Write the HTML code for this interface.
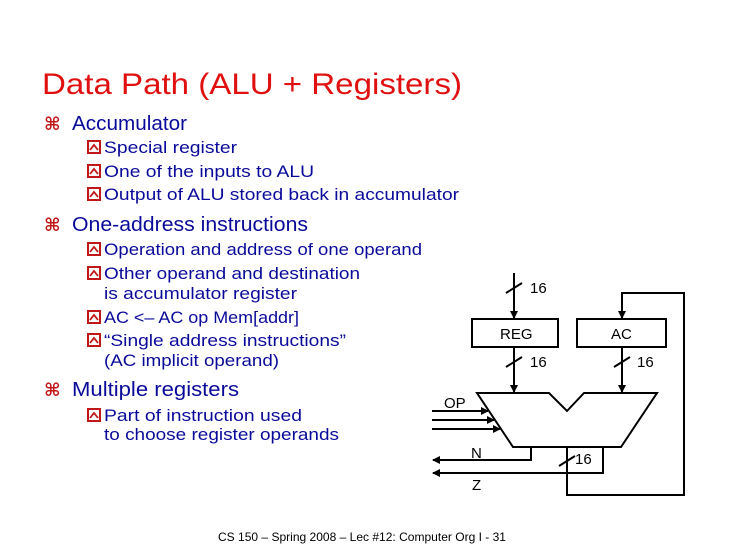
<!DOCTYPE html>
<html><head><meta charset="utf-8"><style>
html,body{margin:0;padding:0;background:#fff;}
svg{display:block}
.t{font-family:"Liberation Sans",sans-serif;fill:#0a0a9a}
.d{font-family:"Liberation Sans",sans-serif;fill:#000;font-size:15px}
.k{font-family:"DejaVu Sans",sans-serif;font-size:18px;font-weight:bold;fill:#c01818}
</style></head><body>
<svg width="730" height="547" viewBox="0 0 730 547" xmlns="http://www.w3.org/2000/svg">
<defs>
<g id="b"><rect x="0" y="-12" width="12" height="12" fill="#fff" stroke="#c01818" stroke-width="2"/><path d="M2,-3 L6,-8 L10,-3" fill="none" stroke="#c01818" stroke-width="1.8"/></g>
<marker id="a" markerWidth="8" markerHeight="8" refX="7" refY="4" orient="auto" markerUnits="userSpaceOnUse"><path d="M0,0 L8,4 L0,8 z" fill="#000"/></marker>
</defs>
<text x="42" y="94" font-family="Liberation Sans,sans-serif" font-size="30" fill="#e01010" textLength="420" lengthAdjust="spacingAndGlyphs">Data Path (ALU + Registers)</text>

<text x="44" y="130" class="k">⌘</text>
<text x="72" y="130" class="t" font-size="20" textLength="115" lengthAdjust="spacingAndGlyphs">Accumulator</text>
<text x="44" y="231" class="k">⌘</text>
<text x="72" y="231" class="t" font-size="20" textLength="236" lengthAdjust="spacingAndGlyphs">One-address instructions</text>
<text x="44" y="396" class="k">⌘</text>
<text x="72" y="396" class="t" font-size="20" textLength="167" lengthAdjust="spacingAndGlyphs">Multiple registers</text>

<g class="t" font-size="17">
<use href="#b" x="88" y="153"/><text x="104" y="153" textLength="133" lengthAdjust="spacingAndGlyphs">Special register</text>
<use href="#b" x="88" y="177"/><text x="104" y="177" textLength="210" lengthAdjust="spacingAndGlyphs">One of the inputs to ALU</text>
<use href="#b" x="88" y="200"/><text x="104" y="200" textLength="355" lengthAdjust="spacingAndGlyphs">Output of ALU stored back in accumulator</text>
<use href="#b" x="88" y="255"/><text x="104" y="255" textLength="318" lengthAdjust="spacingAndGlyphs">Operation and address of one operand</text>
<use href="#b" x="88" y="279"/><text x="104" y="279" textLength="256" lengthAdjust="spacingAndGlyphs">Other operand and destination</text>
<text x="104" y="299" textLength="193" lengthAdjust="spacingAndGlyphs">is accumulator register</text>
<use href="#b" x="88" y="323"/><text x="104" y="323" textLength="195" lengthAdjust="spacingAndGlyphs">AC &lt;– AC op Mem[addr]</text>
<use href="#b" x="88" y="346"/><text x="104" y="346" textLength="242" lengthAdjust="spacingAndGlyphs">“Single address instructions”</text>
<text x="104" y="366" textLength="175" lengthAdjust="spacingAndGlyphs">(AC implicit operand)</text>
<use href="#b" x="88" y="421"/><text x="104" y="421" textLength="198" lengthAdjust="spacingAndGlyphs">Part of instruction used</text>
<text x="104" y="440" textLength="235" lengthAdjust="spacingAndGlyphs">to choose register operands</text>
</g>

<g stroke="#000" stroke-width="2" fill="none">
<line x1="514" y1="273" x2="514" y2="318" marker-end="url(#a)"/>
<rect x="472" y="319" width="86" height="28"/>
<rect x="577" y="319" width="89" height="28"/>
<line x1="514" y1="347" x2="514" y2="392" marker-end="url(#a)"/>
<line x1="622" y1="347" x2="622" y2="392" marker-end="url(#a)"/>
<polyline points="567,447 567,495 684,495 684,293 622,293 622,318" marker-end="url(#a)"/>
<polygon points="477,393 549,393 567,411 584,393 657,393 621,447 513,447"/>
<line x1="432" y1="411" x2="488" y2="411" marker-end="url(#a)"/>
<line x1="432" y1="420" x2="494" y2="420" marker-end="url(#a)"/>
<line x1="432" y1="429" x2="500" y2="429" marker-end="url(#a)"/>
<polyline points="531,447 531,460 433,460" marker-end="url(#a)"/>
<polyline points="603,447 603,473 433,473" marker-end="url(#a)"/>
<line x1="506" y1="293" x2="522" y2="283"/>
<line x1="506" y1="367" x2="522" y2="357"/>
<line x1="614" y1="367" x2="630" y2="357"/>
<line x1="559" y1="466" x2="575" y2="456"/>
</g>
<g class="d">
<text x="530" y="293">16</text>
<text x="530" y="367">16</text>
<text x="637" y="367">16</text>
<text x="575" y="464">16</text>
<text x="500" y="339">REG</text>
<text x="611" y="339">AC</text>
<text x="444" y="408">OP</text>
<text x="471" y="458">N</text>
<text x="472" y="490">Z</text>
</g>
<text x="218" y="541" font-family="Liberation Sans,sans-serif" font-size="12" fill="#000" textLength="288" lengthAdjust="spacingAndGlyphs">CS 150 – Spring 2008 – Lec #12: Computer Org I - 31</text>
</svg>
</body></html>
